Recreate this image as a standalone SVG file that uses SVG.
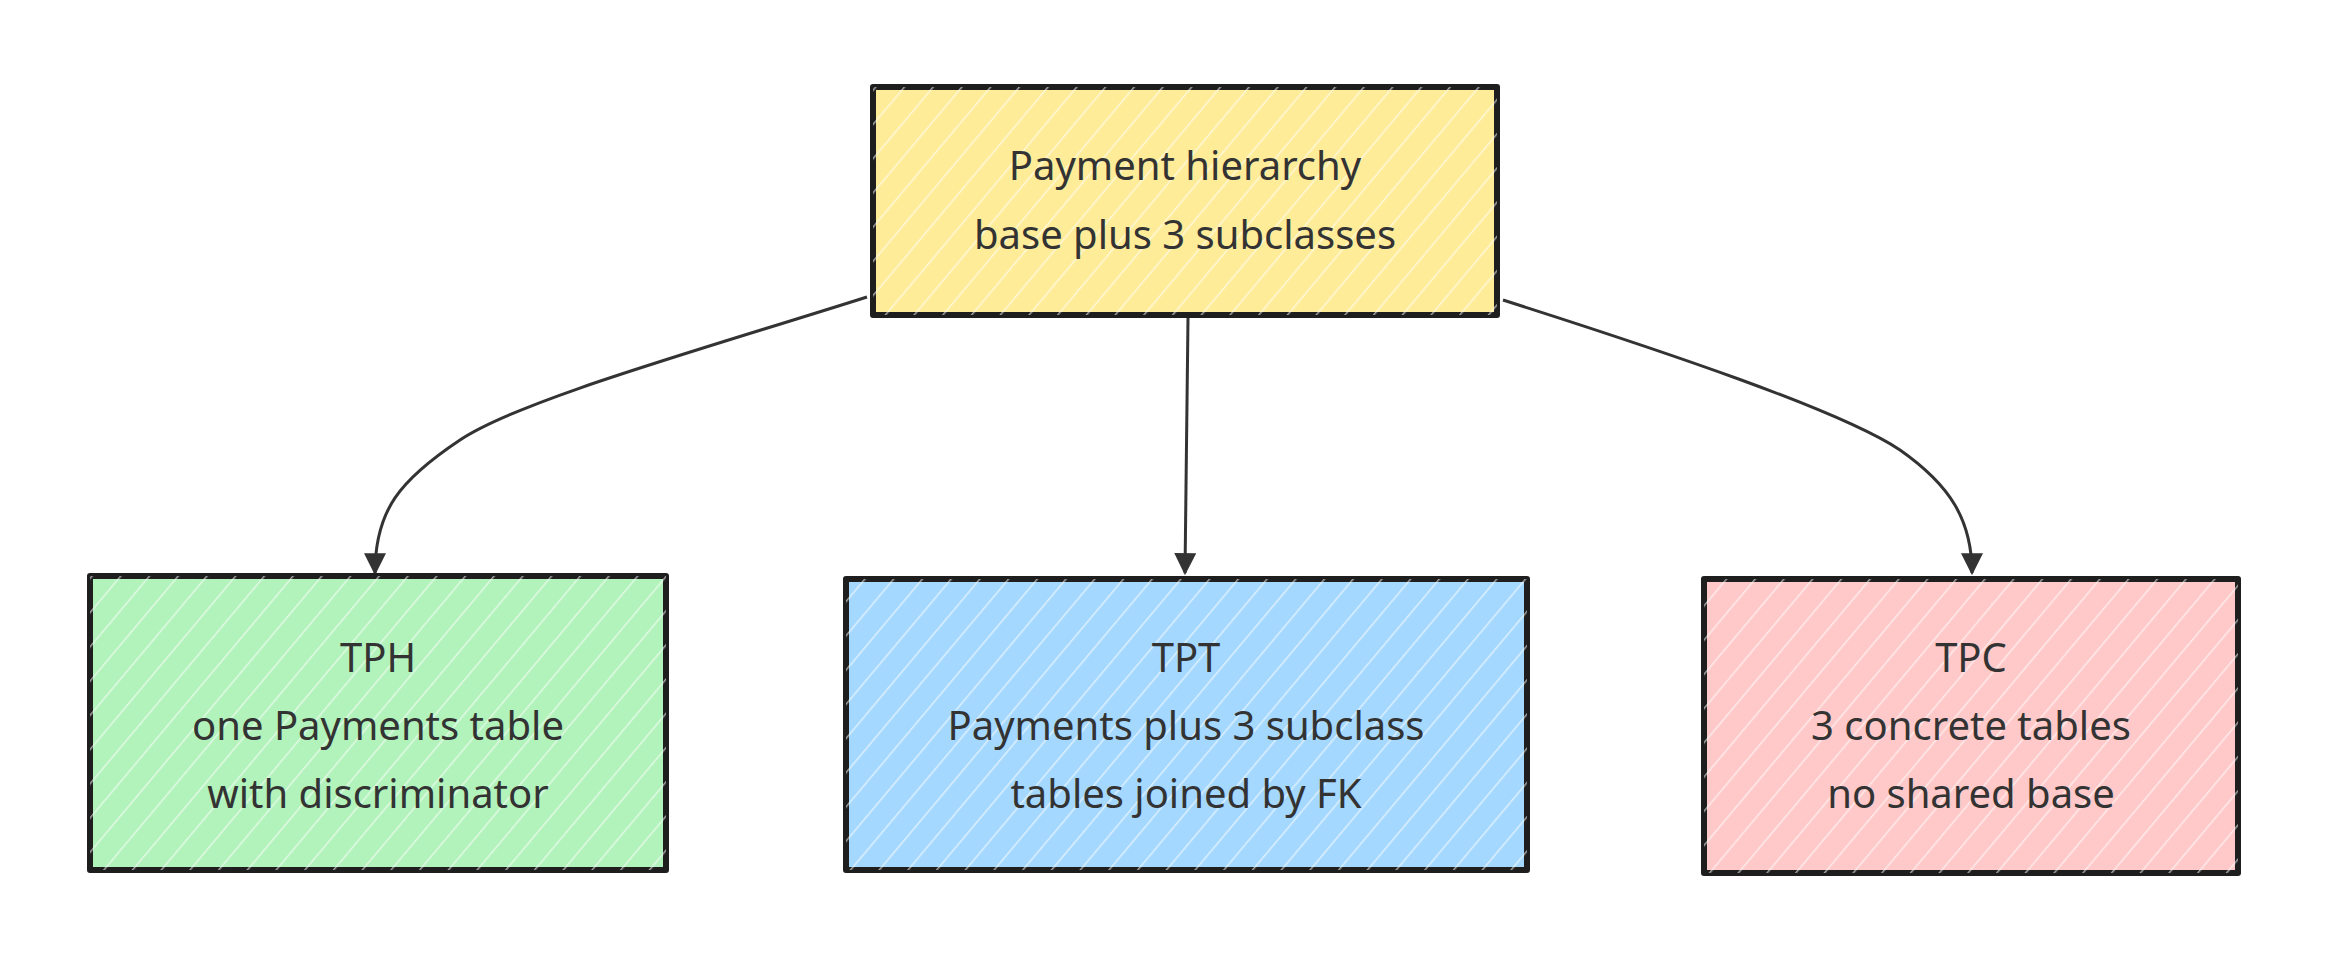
<svg xmlns="http://www.w3.org/2000/svg" width="2352" height="975" viewBox="0 0 2352 975">
<style>
.box{stroke:#1e1e1e;stroke-width:6;stroke-linejoin:round}
.t{font-family:"Noto Sans","Liberation Sans",Arial,sans-serif;font-size:40px;fill:#333;text-anchor:middle}
.e{fill:none;stroke:#333;stroke-width:3}
</style>
<defs>
<pattern id="h" width="22" height="22" patternUnits="userSpaceOnUse" patternTransform="rotate(40)">
<line x1="0" y1="0" x2="0" y2="22" stroke="#fff" stroke-width="3" opacity="0.6"/>
</pattern>
<marker id="b" viewBox="0 0 10 10" refX="9" refY="5" markerWidth="22" markerHeight="22" orient="auto" markerUnits="userSpaceOnUse"><path d="M0,0L10,5L0,10z" fill="#333"/></marker>
</defs>
<rect width="2352" height="975" fill="#fff"/>
<g id="edges">
<path class="e" marker-end="url(#b)" d="M867,297 C700,350 520,400 460,440 C400,480 375,510 375,573"/>
<path class="e" marker-end="url(#b)" d="M1188,318 L1185,573"/>
<path class="e" marker-end="url(#b)" d="M1503,300 C1660,350 1840,410 1900,450 C1950,485 1972,520 1972,573"/>
</g>
<g id="n0"><rect class="box" x="873" y="87" width="624" height="228" fill="#ffec99"/><rect x="873" y="87" width="624" height="228" fill="url(#h)"/>
<text class="t" x="1185" y="180">Payment hierarchy</text><text class="t" x="1185" y="249">base plus 3 subclasses</text></g>
<g id="n1"><rect class="box" x="90" y="576" width="576" height="294" fill="#b2f2bb"/><rect x="90" y="576" width="576" height="294" fill="url(#h)"/>
<text class="t" x="378" y="672">TPH</text><text class="t" x="378" y="740">one Payments table</text><text class="t" x="378" y="808">with discriminator</text></g>
<g id="n2"><rect class="box" x="846" y="579" width="681" height="291" fill="#a5d8ff"/><rect x="846" y="579" width="681" height="291" fill="url(#h)"/>
<text class="t" x="1186" y="672">TPT</text><text class="t" x="1186" y="740">Payments plus 3 subclass</text><text class="t" x="1186" y="808">tables joined by FK</text></g>
<g id="n3"><rect class="box" x="1704" y="579" width="534" height="294" fill="#ffc9c9"/><rect x="1704" y="579" width="534" height="294" fill="url(#h)"/>
<text class="t" x="1971" y="672">TPC</text><text class="t" x="1971" y="740">3 concrete tables</text><text class="t" x="1971" y="808">no shared base</text></g>
</svg>
